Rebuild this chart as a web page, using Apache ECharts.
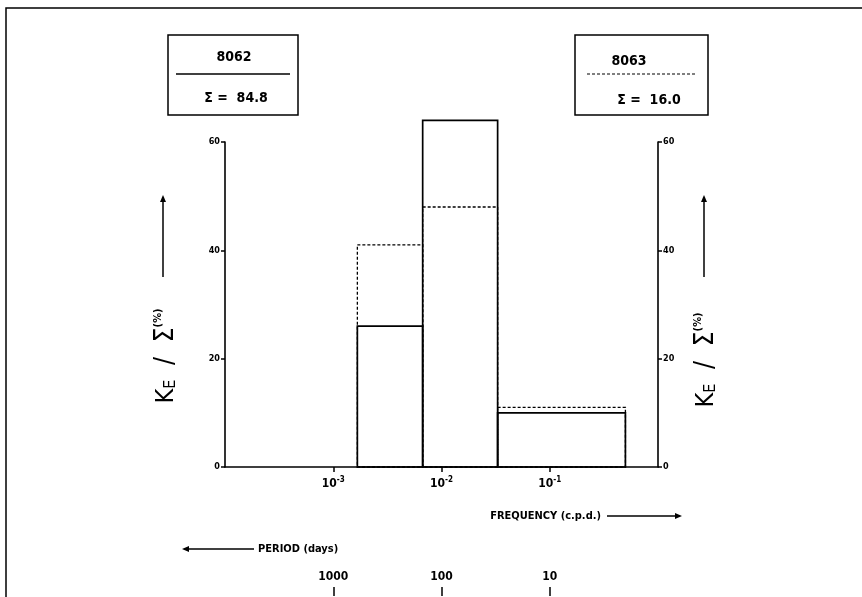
<!DOCTYPE html>
<html>
<head>
<meta charset="UTF-8" />
<title>KE spectra 8062 / 8063</title>
<script src="https://cdn.jsdelivr.net/npm/echarts@6.0.0/dist/echarts.min.js"></script>
</head>
<body style="margin:0">
<div id="chart" style="width: 862px; height: 597px"></div>
<script>
// bin edges along frequency (c.p.d.)
const binEdges = [0.00167, 0.0067, 0.033, 0.5];
// KE / sum (%) per bin
const ke8062 = [26, 64, 10];
const ke8063 = [41, 48, 11];
const freqTicks = [0.001, 0.01, 0.1];
const periodTicks = [1000, 100, 10];
const sum8062 = '84.8';
const sum8063 = '16.0';

const F = "'Liberation Sans Narrow', 'DejaVu Sans Condensed', 'Liberation Sans', sans-serif";

let myChart = echarts.init(document.getElementById('chart'));

function bins(vals) {
  return vals.map((v, i) => [binEdges[i], binEdges[i + 1], v]);
}

function binRenderer(dashed) {
  return function (params, api) {
    let p0 = api.coord([api.value(0), 0]);
    let p1 = api.coord([api.value(1), api.value(2)]);
    return {
      type: 'rect',
      shape: { x: p0[0], y: p1[1], width: p1[0] - p0[0], height: p0[1] - p1[1] },
      style: { fill: 'none', stroke: '#000', lineWidth: dashed ? 1.3 : 1.7, lineDash: dashed ? [3, 2] : null }
    };
  };
}

function arrow(x1, y1, x2, y2) {
  let a = Math.atan2(y2 - y1, x2 - x1), L = 7, W = 3;
  let bx = x2 - L * Math.cos(a), by = y2 - L * Math.sin(a);
  return [
    { type: 'line', shape: { x1: x1, y1: y1, x2: bx, y2: by }, style: { stroke: '#000', lineWidth: 1.5 } },
    { type: 'polygon', shape: { points: [[x2, y2], [bx - W * Math.sin(a), by + W * Math.cos(a)], [bx + W * Math.sin(a), by - W * Math.cos(a)]] }, style: { fill: '#000' } }
  ];
}

function txt(x, y, text, size, align) {
  return {
    type: 'text', x: x, y: y,
    style: { text: text, font: 'bold ' + size + 'px ' + F, fill: '#000', align: align || 'center', verticalAlign: 'middle' }
  };
}

const yTitleRich = {
  k: { fontSize: 25, fontFamily: F },
  e: { fontSize: 16, fontFamily: F, verticalAlign: 'bottom', padding: [10, 0, 0, 0] },
  s: { fontSize: 26, fontFamily: F },
  p: { fontSize: 11, fontFamily: F, fontWeight: 'bold', verticalAlign: 'top', padding: [0, 0, 12, 0] }
};

function yTitle(x, y) {
  return {
    type: 'text', x: x, y: y, rotation: Math.PI / 2,
    style: { text: '{k|K}{e|E}{s|  /  Σ}{p|(%)}', rich: yTitleRich, fill: '#000', align: 'center', verticalAlign: 'middle' }
  };
}

let graphics = [
  // frame
  { type: 'polyline', shape: { points: [[6, 597], [6, 8], [862, 8]] }, style: { stroke: '#000', lineWidth: 1.5, fill: 'none' } },
  // legend boxes
  { type: 'rect', shape: { x: 168, y: 35, width: 130, height: 80 }, style: { fill: 'none', stroke: '#000', lineWidth: 1.5 } },
  txt(234, 57, '8062', 14),
  { type: 'line', shape: { x1: 176, y1: 74, x2: 290, y2: 74 }, style: { stroke: '#000', lineWidth: 1.5 } },
  txt(236, 98, 'Σ =  ' + sum8062, 14),
  { type: 'rect', shape: { x: 575, y: 35, width: 133, height: 80 }, style: { fill: 'none', stroke: '#000', lineWidth: 1.5 } },
  txt(629, 61, '8063', 14),
  { type: 'line', shape: { x1: 587, y1: 74, x2: 697, y2: 74 }, style: { stroke: '#000', lineWidth: 1.2, lineDash: [3, 2] } },
  txt(649, 100, 'Σ =  ' + sum8063, 14),
  // y titles
  yTitle(166, 356),
  yTitle(706, 360),
  // axis captions
  txt(601, 516, 'FREQUENCY (c.p.d.)', 11, 'right'),
  txt(258, 549, 'PERIOD (days)', 11, 'left')
].concat(arrow(163, 277, 163, 195), arrow(704, 277, 704, 195), arrow(607, 516, 682, 516), arrow(254, 549, 182, 549));

const yAxisBase = {
  type: 'value', min: 0, max: 60, interval: 20,
  axisLine: { show: true, lineStyle: { color: '#000', width: 1.6 } },
  axisTick: { show: true, length: 4, lineStyle: { color: '#000', width: 1.5 } },
  axisLabel: { color: '#000', fontSize: 9, fontWeight: 'bold', fontFamily: F, margin: 5 },
  splitLine: { show: false }
};

myChart.setOption({
  animation: false,
  backgroundColor: '#fff',
  grid: [
    { left: 225, right: 204, top: 142, bottom: 130 },
    // period scale; its ends are lined up with the frequency axis below
    { left: 334, right: 313, top: 560, bottom: 10 }
  ],
  xAxis: [
    {
      type: 'log', min: 0.0001, max: 1, logBase: 10, gridIndex: 0,
      axisLine: { lineStyle: { color: '#000', width: 1.6 } },
      axisTick: { length: 5, customValues: freqTicks, lineStyle: { color: '#000', width: 1.5 } },
      axisLabel: {
        customValues: freqTicks, margin: 9,
        formatter: v => '{b|10}{s|' + Math.round(Math.log10(v)) + '}',
        rich: {
          b: { fontSize: 12, fontWeight: 'bold', fontFamily: F, color: '#000' },
          s: { fontSize: 8, fontWeight: 'bold', fontFamily: F, color: '#000', verticalAlign: 'top', padding: [0, 0, 7, 0] }
        }
      },
      splitLine: { show: false }
    },
    {
      type: 'log', gridIndex: 1, logBase: 10, inverse: true, position: 'bottom',
      min: Math.min.apply(null, periodTicks), max: Math.max.apply(null, periodTicks),
      axisLine: { show: false },
      axisTick: { show: true, length: 9, lineStyle: { color: '#000', width: 1.5 } },
      axisLabel: { inside: true, margin: 4, color: '#000', fontSize: 12, fontWeight: 'bold', fontFamily: F, formatter: v => String(v) },
      splitLine: { show: false }
    }
  ],
  yAxis: [
    Object.assign({}, yAxisBase, { position: 'left' }),
    Object.assign({}, yAxisBase, { position: 'right' }),
    { type: 'value', gridIndex: 1, show: false }
  ],
  series: [
    { name: '8063', type: 'custom', renderItem: binRenderer(true), encode: { x: [0, 1], y: 2 }, data: bins(ke8063) },
    { name: '8062', type: 'custom', renderItem: binRenderer(false), encode: { x: [0, 1], y: 2 }, data: bins(ke8062) }
  ],
  graphic: graphics
});

// line the period scale up with the frequency axis: period P sits at frequency 1/P
let pMax = Math.max.apply(null, periodTicks), pMin = Math.min.apply(null, periodTicks);
let xLeft = myChart.convertToPixel({ xAxisIndex: 0 }, 1 / pMax);
let xRight = myChart.convertToPixel({ xAxisIndex: 0 }, 1 / pMin);
myChart.setOption({ grid: [{}, { left: xLeft, right: 862 - xRight }] });
</script>
</body>
</html>
